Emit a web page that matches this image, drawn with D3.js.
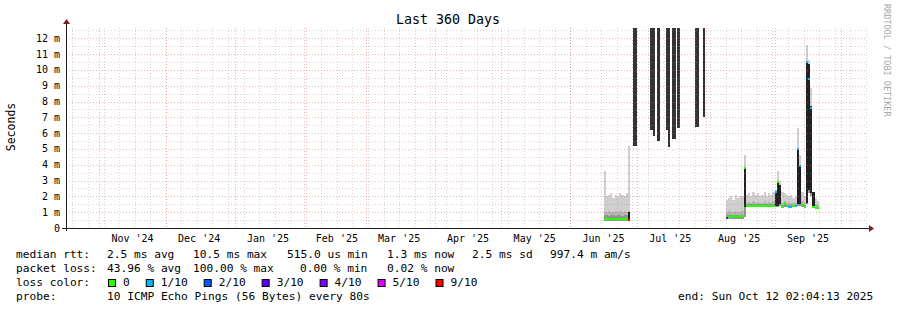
<!DOCTYPE html>
<html>
<head>
<meta charset="utf-8">
<script src="https://cdn.jsdelivr.net/npm/d3@7"></script>
<style>
body { margin: 0; background: #fff; }
text { font-family: "DejaVu Sans Mono", monospace; fill: #000; }
</style>
</head>
<body>
<svg id="chart" width="897" height="310"></svg>
<script>
// ---- data (values in ms) ----
var rangeStart = "2024-10-17T02:04:13Z";
var rangeEnd = "2025-10-12T02:04:13Z";

var yTicks = [0, 1, 2, 3, 4, 5, 6, 7, 8, 9, 10, 11, 12];

// days with smoke data
var smokeDays = [
  "2025-06-16", "2025-06-17", "2025-06-18", "2025-06-19", "2025-06-20", "2025-06-21",
  "2025-06-22", "2025-06-23", "2025-06-24", "2025-06-25", "2025-06-26", "2025-06-27",
  "2025-08-10", "2025-08-11", "2025-08-12", "2025-08-13", "2025-08-14", "2025-08-15",
  "2025-08-16", "2025-08-17", "2025-08-18", "2025-08-19", "2025-08-20", "2025-08-21",
  "2025-08-22", "2025-08-23", "2025-08-24", "2025-08-25", "2025-08-26", "2025-08-27",
  "2025-08-28", "2025-08-29", "2025-08-30", "2025-08-31", "2025-09-01", "2025-09-02",
  "2025-09-03", "2025-09-04", "2025-09-05", "2025-09-06", "2025-09-07", "2025-09-08",
  "2025-09-09", "2025-09-10", "2025-09-11", "2025-09-12", "2025-09-13", "2025-09-14",
  "2025-09-15", "2025-09-16", "2025-09-17", "2025-09-18", "2025-09-19", "2025-09-20"
];
// top of the light smoke
var smokeMax = [
  3.6, 2.0, 2.1, 2.2, 1.9, 2.1, 2.0, 2.2, 2.1, 2.0, 2.2, 5.2,
  1.8, 1.9, 2.0, 1.8, 2.1, 1.9, 2.0, 2.0, 4.6, 2.1, 2.2, 2.0,
  2.3, 2.1, 2.2, 2.0, 2.1, 2.3, 2.0, 2.2, 2.1, 2.3, 2.4, 3.6,
  3.0, 2.3, 2.2, 2.1, 2.0, 2.1, 1.9, 2.0, 6.3, 4.6, 2.3, 2.0,
  11.6, 10.6, 8.85, 2.1, 1.9, 1.7
];
// top of the middle smoke band
var smokeUpper = [
  1.1, 1.0, 1.1, 1.0, 1.0, 1.1, 1.0, 1.1, 1.0, 1.1, 1.0, 1.1,
  1.0, 1.05, 1.0, 1.0, 1.05, 1.0, 1.0, 1.05, 1.5, 1.6, 1.65, 1.6,
  1.7, 1.6, 1.65, 1.6, 1.6, 1.7, 1.6, 1.65, 1.6, 1.7, 1.7, 1.8,
  1.8, 1.6, 1.7, 1.6, 1.6, 1.6, 1.55, 1.6, 1.8, 1.8, 1.7, 1.6,
  2.0, 2.6, 2.4, 1.6, 1.5, 1.45
];
// top of the dense inner smoke
var smokeInner = [
  0.8, 0.8, 0.75, 0.8, 0.8, 0.75, 0.8, 0.8, 0.75, 0.8, 0.8, 0.9,
  0.8, 0.8, 0.85, 0.8, 0.85, 0.8, 0.8, 0.85, 1.4, 1.5, 1.5, 1.5,
  1.5, 1.5, 1.5, 1.5, 1.5, 1.5, 1.5, 1.5, 1.5, 1.5, 1.5, 1.5,
  1.55, 1.45, 1.6, 1.5, 1.45, 1.45, 1.45, 1.5, 1.6, 1.6, 1.5, 1.45,
  1.7, 2.5, 2.3, 1.4, 1.35, 1.35
];
var smokeMin = [
  0.45, 0.45, 0.45, 0.45, 0.45, 0.45, 0.45, 0.45, 0.45, 0.45, 0.45, 0.45,
  0.55, 0.6, 0.6, 0.6, 0.6, 0.6, 0.6, 0.6, 0.7, 1.35, 1.35, 1.35,
  1.35, 1.35, 1.35, 1.35, 1.35, 1.35, 1.35, 1.35, 1.35, 1.35, 1.35, 1.35,
  1.4, 1.3, 1.3, 1.3, 1.3, 1.3, 1.3, 1.3, 1.4, 1.4, 1.35, 1.3,
  1.5, 2.2, 2.0, 1.25, 1.2, 1.2
];
var medianRtt = [
  0.55, 0.55, 0.55, 0.55, 0.55, 0.55, 0.55, 0.55, 0.55, 0.55, 0.55, 0.5,
  0.62, 0.7, 0.7, 0.75, 0.7, 0.7, 0.75, 0.75, 3.8, 1.4, 1.4, 1.4,
  1.4, 1.4, 1.4, 1.4, 1.4, 1.4, 1.4, 1.4, 1.4, 1.4, 2.3, 2.9,
  1.45, 1.35, 1.55, 1.45, 1.35, 1.35, 1.4, 1.4, 5.0, 3.9, 1.45, 1.35,
  10.5, 9.4, 7.6, 1.3, 1.25, 1.25
];
// lost pings out of 10
var lossCount = [
  0, 0, 0, 0, 0, 0, 0, 0, 0, 0, 0, 9,
  3, 0, 0, 0, 0, 0, 0, 0, 0, 0, 0, 0,
  0, 0, 0, 0, 0, 0, 0, 0, 0, 0, 1, 0,
  0, 0, 0, 0, 1, 1, 0, 1, 1, 1, 0, 0,
  1, 1, 1, 0, 0, 0
];
// dense dark smoke (low, high) where present
var darkLow = [
  null, null, null, null, null, null, null, null, null, null, null, 0.5,
  null, null, null, null, null, null, null, null, 1.3, null, null, null,
  null, null, null, null, null, null, null, null, null, null, 1.4, 1.4,
  1.5, null, null, null, null, null, null, null, 1.5, 1.5, null, null,
  1.6, 2.4, 2.2, 1.3, null, null
];
var darkHigh = [
  null, null, null, null, null, null, null, null, null, null, null, 1.0,
  null, null, null, null, null, null, null, null, 3.8, null, null, null,
  null, null, null, null, null, null, null, null, null, null, 2.3, 2.9,
  2.7, null, null, null, null, null, null, null, 5.0, 3.9, null, null,
  10.5, 10.4, 7.7, 2.3, null, null
];

// heavy smoke periods running off the top of the graph
var burstFrom = ["2025-06-29T09:00Z", "2025-07-07T02:00Z", "2025-07-08T04:00Z", "2025-07-10T04:00Z",
  "2025-07-13T22:00Z", "2025-07-15T00:00Z", "2025-07-16T22:00Z", "2025-07-19T00:00Z",
  "2025-07-26T22:00Z", "2025-07-30T16:00Z"];
var burstTo = ["2025-06-30T20:00Z", "2025-07-08T04:00Z", "2025-07-09T02:00Z", "2025-07-11T08:00Z",
  "2025-07-15T00:00Z", "2025-07-15T22:00Z", "2025-07-18T14:00Z", "2025-07-20T06:00Z",
  "2025-07-28T22:00Z", "2025-07-31T20:00Z"];
var burstLow = [5.2, 6.2, 5.8, 5.5, 6.2, 5.1, 5.65, 6.3, 6.4, 7.05];

var lossLabels = ["0", "1/10", "2/10", "3/10", "4/10", "5/10", "9/10"];
var lossColors = ["#26ff00", "#00b8ff", "#0059ff", "#5e00ff", "#7e00ff", "#dd00ff", "#ff0000"];

var statsRtt = ["median rtt:", "2.5 ms avg", "10.5 ms max", "515.0 us min", "1.3 ms now", "2.5 ms sd", "997.4 m am/s"];
var statsLoss = ["packet loss:", "43.96 % avg", "100.00 % max", "0.00 % min", "0.02 % now"];

// ---- drawing ----
var svg = d3.select("#chart");
var plotL = 66, plotR = 866, plotT = 28, plotB = 228;

var x = d3.scaleUtc()
  .domain([new Date(rangeStart), new Date(rangeEnd)])
  .range([plotL, plotR]);
var y = d3.scaleLinear()
  .domain([0, 12.65])
  .range([plotB, plotT]);

var parseDay = d3.utcParse("%Y-%m-%d");

function lossColor(n) {
  if (n >= 9) return lossColors[6];
  if (n >= 5) return lossColors[5];
  return lossColors[n];
}

svg.append("rect").attr("width", 897).attr("height", 310).attr("fill", "#fff");

svg.append("clipPath").attr("id", "plot")
  .append("rect").attr("x", plotL).attr("y", plotT).attr("width", plotR - plotL).attr("height", plotB - plotT);

var g = svg.append("g").attr("clip-path", "url(#plot)");

var days = smokeDays.map(function (s, i) {
  var d = parseDay(s);
  return { x0: x(d), x1: x(d3.utcDay.offset(d, 1)), i: i };
});

// smoke layers
function layer(topArr, color) {
  g.append("g").selectAll("rect")
    .data(days)
    .enter().append("rect")
    .attr("x", function (d) { return d.x0; })
    .attr("width", function (d) { return d.x1 - d.x0; })
    .attr("y", function (d) { return y(topArr[d.i]); })
    .attr("height", function (d) { return y(smokeMin[d.i]) - y(topArr[d.i]); })
    .attr("fill", color)
    .attr("shape-rendering", "crispEdges");
}
layer(smokeMax, "#cfcfcf");
layer(smokeUpper, "#b5b5b5");
layer(smokeInner, "#939393");

// dark smoke
g.append("g").selectAll("rect")
  .data(days.filter(function (d) { return darkLow[d.i] != null; }))
  .enter().append("rect")
  .attr("x", function (d) { return d.x0; })
  .attr("width", function (d) { return d.x1 - d.x0; })
  .attr("y", function (d) { return y(darkHigh[d.i]); })
  .attr("height", function (d) { return y(darkLow[d.i]) - y(darkHigh[d.i]); })
  .attr("fill", "#202020")
  .attr("shape-rendering", "crispEdges");

// bursts off the top
g.append("g").selectAll("rect")
  .data(burstLow)
  .enter().append("rect")
  .attr("x", function (d, i) { return x(new Date(burstFrom[i])); })
  .attr("width", function (d, i) { return x(new Date(burstTo[i])) - x(new Date(burstFrom[i])); })
  .attr("y", plotT)
  .attr("height", function (d) { return y(d) - plotT; })
  .attr("fill", "#333")
  .attr("shape-rendering", "crispEdges");

// median, coloured by loss
g.append("g").selectAll("rect")
  .data(days)
  .enter().append("rect")
  .attr("x", function (d) { return d.x0; })
  .attr("width", function (d) { return d.x1 - d.x0; })
  .attr("y", function (d) { return Math.round(y(medianRtt[d.i])) - 1; })
  .attr("height", 2)
  .attr("fill", function (d) { return lossColor(lossCount[d.i]); })
  .attr("shape-rendering", "crispEdges");

// grid, faint and dotted
var grid = svg.append("g").attr("stroke-dasharray", "1,2").attr("stroke-width", 1);
var minorY = yTicks.slice(0, -1).map(function (v) { return v + 0.5; }).concat([12.5]);
grid.selectAll(".gy").data(minorY).enter().append("line")
  .attr("x1", plotL).attr("x2", plotR)
  .attr("y1", function (d) { return Math.round(y(d)) + 0.5; })
  .attr("y2", function (d) { return Math.round(y(d)) + 0.5; })
  .attr("stroke", "rgba(150,150,150,0.4)");
grid.selectAll(".gx").data(d3.utcSunday.range(x.domain()[0], x.domain()[1])).enter().append("line")
  .attr("y1", plotT).attr("y2", plotB)
  .attr("x1", function (d) { return Math.round(x(d)) + 0.5; })
  .attr("x2", function (d) { return Math.round(x(d)) + 0.5; })
  .attr("stroke", "rgba(150,150,150,0.4)");
grid.selectAll(".my").data(yTicks.slice(1)).enter().append("line")
  .attr("x1", plotL).attr("x2", plotR)
  .attr("y1", function (d) { return Math.round(y(d)) + 0.5; })
  .attr("y2", function (d) { return Math.round(y(d)) + 0.5; })
  .attr("stroke", "rgba(225,90,90,0.45)");
var months = d3.utcMonth.range(x.domain()[0], x.domain()[1]);
grid.selectAll(".mx").data(months).enter().append("line")
  .attr("y1", plotT).attr("y2", plotB)
  .attr("x1", function (d) { return Math.round(x(d)) + 0.5; })
  .attr("x2", function (d) { return Math.round(x(d)) + 0.5; })
  .attr("stroke", "rgba(225,90,90,0.45)");

// axes
svg.append("line").attr("x1", 62).attr("x2", 869).attr("y1", plotB + 0.5).attr("y2", plotB + 0.5)
  .attr("stroke", "#1f1f1f");
svg.append("line").attr("x1", plotL + 0.5).attr("x2", plotL + 0.5).attr("y1", plotB + 3).attr("y2", 24)
  .attr("stroke", "#1f1f1f");
svg.append("path").attr("d", "M869,225L874,228.5L869,232Z").attr("fill", "#7f1f1f");
svg.append("path").attr("d", "M63,24L66.5,19L70,24Z").attr("fill", "#7f1f1f");

// y labels
svg.append("g").selectAll("text").data(yTicks).enter().append("text")
  .attr("x", 60).attr("y", function (d) { return y(d) + 3.5; })
  .attr("text-anchor", "end")
  .style("font-size", "10px")
  .text(function (d) { return d === 0 ? "0" : d + " m"; });

// x labels, centred on mid month
var labelFmt = d3.utcFormat("%b '%y");
svg.append("g").selectAll("text")
  .data(months.map(function (m) { return d3.utcDay.offset(m, 15); })
    .filter(function (d) { return d < x.domain()[1]; }))
  .enter().append("text")
  .attr("x", function (d) { return x(d); }).attr("y", 241.5)
  .attr("text-anchor", "middle")
  .style("font-size", "10px")
  .text(labelFmt);

// titles
svg.append("text").attr("x", 448).attr("y", 23.5).attr("text-anchor", "middle")
  .style("font-size", "13.3px").text("Last 360 Days");
svg.append("text").attr("transform", "translate(15,127) rotate(-90)").attr("text-anchor", "middle")
  .style("font-size", "11.5px").text("Seconds");
svg.append("text").attr("transform", "translate(884,4) rotate(90)")
  .style("font-size", "8.5px").style("fill", "#a8a8a8").text("RRDTOOL / TOBI OETIKER");

// legend
var lg = svg.append("g").style("font-size", "11.2px");
var rttX = [16, 107, 193, 287, 387, 472, 550];
statsRtt.forEach(function (s, i) {
  lg.append("text").attr("x", rttX[i]).attr("y", 258).text(s);
});
var lossX = [16, 107, 193, 300, 387];
statsLoss.forEach(function (s, i) {
  lg.append("text").attr("x", lossX[i]).attr("y", 272).text(s);
});
lg.append("text").attr("x", 16).attr("y", 286).text("loss color:");
var cx = 108;
lossLabels.forEach(function (s, i) {
  lg.append("rect").attr("x", cx + 0.5).attr("y", 279.5).attr("width", 7).attr("height", 7)
    .attr("fill", lossColors[i]).attr("stroke", "#000");
  var t = lg.append("text").attr("x", cx + 15).attr("y", 286).text(s);
  cx = cx + 15 + t.node().getComputedTextLength() + 16;
});
lg.append("text").attr("x", 16).attr("y", 300).text("probe:");
lg.append("text").attr("x", 107).attr("y", 300).text("10 ICMP Echo Pings (56 Bytes) every 80s");
lg.append("text").attr("x", 678).attr("y", 300).text("end: Sun Oct 12 02:04:13 2025");
</script>
</body>
</html>
